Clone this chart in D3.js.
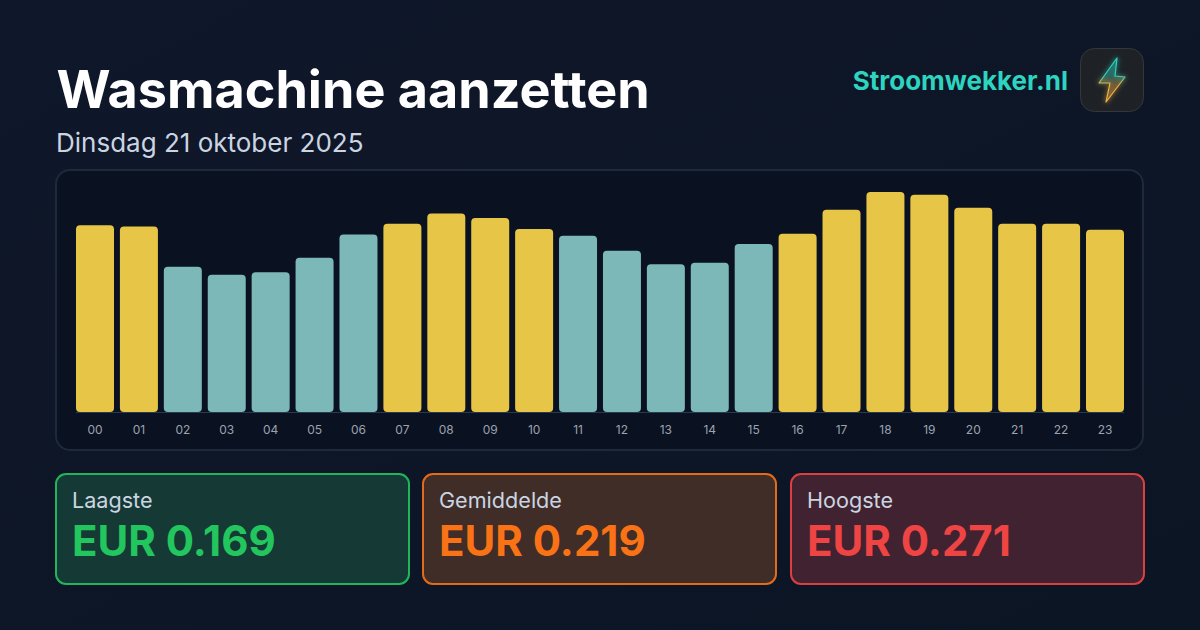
<!DOCTYPE html>
<html><head><meta charset="utf-8">
<script src="https://cdnjs.cloudflare.com/ajax/libs/d3/7.9.0/d3.min.js"></script>
<style>html,body{margin:0;padding:0;background:#0f172a;overflow:hidden}svg{display:block}text{font-family:Inter,sans-serif}</style>
</head><body><svg id="c" width="1200" height="630"></svg>
<script>
// Hourly electricity prices in EUR/kWh
const hours = ["00","01","02","03","04","05","06","07","08","09","10","11","12","13","14","15","16","17","18","19","20","21","22","23"];
const prices = [0.230,0.2285,0.179,0.169,0.172,0.190,0.2185,0.232,0.2445,0.239,0.2255,0.217,0.1985,0.182,0.184,0.207,0.2195,0.249,0.271,0.2675,0.2515,0.232,0.232,0.2245];
const average = 0.219;
const cardLabels = ["Laagste","Gemiddelde","Hoogste"];
const cardValues = ["EUR 0.169","EUR 0.219","EUR 0.271"];
const cardColors = ["#22c55e","#f97316","#ef4444"];
const cardFills = ["#153a35","#402d28","#412230"];

const svg = d3.select("#c");
const defs = svg.append("defs");
const bg = defs.append("linearGradient").attr("id","bg").attr("x1",0).attr("y1",0).attr("x2",1).attr("y2",1);
bg.append("stop").attr("offset",0).attr("stop-color","#0f172a");
bg.append("stop").attr("offset",1).attr("stop-color","#0c1524");
svg.append("rect").attr("width",1200).attr("height",630).attr("fill","url(#bg)");

svg.append("text").attr("x",56.5).attr("y",108).attr("font-size",52.1).attr("font-weight",700).attr("fill","#fff").text("Wasmachine aanzetten");
svg.append("text").attr("x",56).attr("y",152).attr("font-size",26).attr("fill","#cbd5e1").text("Dinsdag 21 oktober 2025");
svg.append("text").attr("x",1068).attr("y",90).attr("text-anchor","end").attr("font-size",26).attr("font-weight",700).attr("fill","#2dd4bf").text("Stroomwekker.nl");

// App icon with a glowing bolt
const glow = defs.append("filter").attr("id","glow").attr("x","-60%").attr("y","-60%").attr("width","220%").attr("height","220%");
glow.append("feGaussianBlur").attr("stdDeviation",2.4).attr("result","b");
const mg = glow.append("feMerge"); mg.append("feMergeNode").attr("in","b"); mg.append("feMergeNode").attr("in","SourceGraphic");
const boltGrad = defs.append("linearGradient").attr("id","bolt").attr("gradientUnits","userSpaceOnUse").attr("x1",0).attr("y1",10).attr("x2",0).attr("y2",54);
boltGrad.append("stop").attr("offset",0.38).attr("stop-color","#2dd4bf");
boltGrad.append("stop").attr("offset",0.62).attr("stop-color","#f5b041");
const boltFill = defs.append("linearGradient").attr("id","boltFill").attr("gradientUnits","userSpaceOnUse").attr("x1",0).attr("y1",10).attr("x2",0).attr("y2",54);
boltFill.append("stop").attr("offset",0.38).attr("stop-color","#2dd4bf").attr("stop-opacity",.2);
boltFill.append("stop").attr("offset",0.62).attr("stop-color","#f5b041").attr("stop-opacity",.2);
const icon = svg.append("g").attr("transform","translate(1080,48)");
icon.append("rect").attr("x",.5).attr("y",.5).attr("width",63).attr("height",63).attr("rx",14).attr("fill","#1e2226").attr("stroke","#34383d");
icon.append("path").attr("d","M37 10 L19 35 L30 35 L26 54 L45 29 L35 28 Z").attr("fill","url(#boltFill)").attr("stroke","url(#bolt)").attr("stroke-width",1.2).attr("stroke-linejoin","round").attr("filter","url(#glow)");

// Chart panel
svg.append("rect").attr("x",56).attr("y",170).attr("width",1087).attr("height",280).attr("rx",14).attr("fill","#0a1120").attr("stroke","#1e293b").attr("stroke-width",2);

const x = d3.scaleBand().domain(hours).range([73,1127]).paddingInner(0.1346).paddingOuter(0.0683);
const y = d3.scaleLinear().domain([0,0.271]).range([412,192]);

svg.append("g").selectAll("path").data(prices).join("path")
  .attr("fill",d=>d>average ? "#e6c547" : "#7cb8b8")
  .attr("d",(d,i)=>{
    const l=x(hours[i]),w=x.bandwidth(),t=y(d),b=y(0),r=4;
    const p=d3.path();
    p.moveTo(l+r,t);p.lineTo(l+w-r,t);p.arcTo(l+w,t,l+w,t+r,r);
    p.lineTo(l+w,b-r);p.arcTo(l+w,b,l+w-r,b,r);
    p.lineTo(l+r,b);p.arcTo(l,b,l,b-r,r);
    p.lineTo(l,t+r);p.arcTo(l,t,l+r,t,r);p.closePath();
    return p.toString();
  });
svg.append("line").attr("x1",76).attr("x2",1124).attr("y1",412.5).attr("y2",412.5).attr("stroke","#2a3a4e");

const axis = svg.append("g").attr("transform","translate(0,413)").call(d3.axisBottom(x).tickSize(0).tickPadding(12));
axis.select(".domain").remove();
axis.selectAll("text").attr("font-size",12).attr("fill","#9ca3af").style("font-family","Inter,sans-serif");

// Summary cards
const cardX = [56,423,791];
cardLabels.forEach((lab,i)=>{
  const g = svg.append("g").attr("transform",`translate(${cardX[i]},474)`);
  g.append("rect").attr("width",353).attr("height",110).attr("rx",10).attr("fill",cardFills[i]).attr("stroke",cardColors[i]).attr("stroke-opacity",.9).attr("stroke-width",2);
  g.append("text").attr("x",16).attr("y",33.5).attr("font-size",21.6).attr("fill","#cbd5e1").text(lab);
  g.append("text").attr("x",16).attr("y",82).attr("font-size",42).attr("font-weight",700).attr("fill",cardColors[i]).text(cardValues[i]);
});
</script></body></html>
